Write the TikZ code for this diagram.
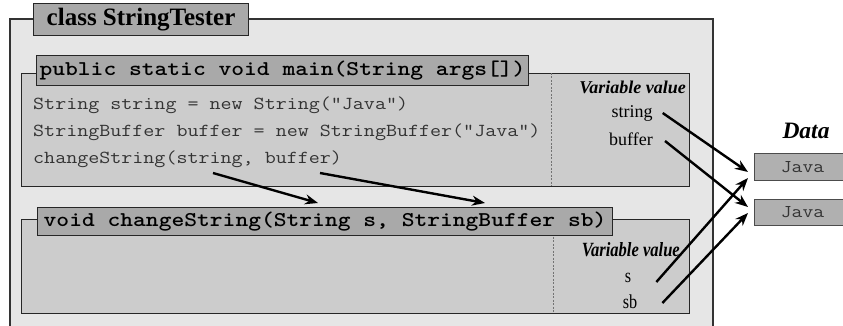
\documentclass[tikz,border=0pt]{standalone}
\usepackage{fontspec}
\setmainfont{Liberation Serif}
% typewriter faces widened to the usual 0.6em pitch
\newfontfamily\codefont[FakeStretch=1.17]{Latin Modern Mono}
\newfontfamily\headfont[FakeStretch=1.16]{lmmonolt10-bold.otf}
\usetikzlibrary{arrows.meta}

\definecolor{outerfill}{HTML}{E6E6E6}
\definecolor{boxfill}{HTML}{CCCCCC}
\definecolor{headfill}{HTML}{A9A9A9}
\definecolor{datafill}{HTML}{B0B0B0}
\definecolor{codegray}{HTML}{333333}

\tikzset{
  framebox/.style={draw=black!85, line width=1.2pt, fill=boxfill,
    anchor=north west, inner sep=0pt},
  headbox/.style={draw=black!85, line width=1.1pt, fill=headfill,
    inner sep=0pt, font=\headfont\fontsize{21}{24}\selectfont},
  codeline/.style={anchor=west, inner sep=0pt, text=codegray,
    font=\codefont\fontsize{18.3}{20}\selectfont},
  varhead/.style={anchor=east, inner sep=0pt,
    font=\bfseries\itshape\fontsize{18}{20}\selectfont},
  varname/.style={inner sep=0pt, font=\fontsize{18}{20}\selectfont},
  databox/.style={draw=black!70, line width=1pt, fill=datafill,
    anchor=north west, inner sep=0pt, text=codegray,
    font=\codefont\fontsize{18}{20}\selectfont},
  divider/.style={draw=black!55, line width=0.9pt, dash pattern=on 2pt off 1.5pt},
  ptr/.style={-{Stealth[length=13pt,width=10pt]}, line width=2.4pt},
}

\begin{document}
\begin{tikzpicture}[x=1pt,y=-1pt]
  \useasboundingbox (0,0) rectangle (843,326);

  % class frame, open at the bottom
  \fill[outerfill] (10,19) rectangle (713,340);
  \draw[black!80, line width=1.2pt] (10,340) -- (10,19) -- (713,19) -- (713,340);
  \node[headbox, anchor=north west, minimum width=215pt, minimum height=32pt,
        font=\bfseries\fontsize{25}{28}\selectfont] (cls) at (33,3) {class StringTester};

  % main method frame
  \node[framebox, minimum width=668pt, minimum height=113pt] (main) at (21,73) {};
  \draw[divider] (551,73) -- (551,186);
  \node[headbox, anchor=north west, minimum width=492pt, minimum height=30pt]
    (mainhead) at (36,55) {public static void main(String args[])};
  \node[codeline] (l1) at (33,105) {String string = new String("Java")};
  \node[codeline] (l2) at (33,132) {StringBuffer buffer = new StringBuffer("Java")};
  \node[codeline] (l3) at (33,159) {changeString(string, buffer)};
  \node[varhead] (vh1) at (686,87) {Variable value};
  \node[varname] (vstr) at (632,113) {string};
  \node[varname] (vbuf) at (631,139) {buffer};

  % changeString frame
  \node[framebox, minimum width=668pt, minimum height=94pt] (chg) at (21,219) {};
  \draw[divider] (553,219) -- (553,313);
  \node[headbox, anchor=north west, minimum width=575pt, minimum height=28pt]
    (chghead) at (37,207) {void changeString(String s, StringBuffer sb)};
  \node[varhead] (vh2) at (680,250) {\scalebox{0.92}[1.12]{Variable value}};
  \node[varname] (vs) at (628,278) {\scalebox{0.9}[1.1]{s}};
  \node[varname] (vsb) at (630,302) {\scalebox{0.9}[1.1]{sb}};

  % data area
  \node[inner sep=0pt, font=\bfseries\itshape\fontsize{23.5}{26}\selectfont] (data) at (806,131) {Data};
  \node[databox, minimum width=96pt, minimum height=27pt] (java1) at (754,153) {Java};
  \node[databox, minimum width=96pt, minimum height=26pt] (java2) at (754,199) {Java};

  % arrow ends
  \coordinate (argS) at (318,203);
  \coordinate (argB) at (485,203);
  \coordinate (j1a) at (748,172);
  \coordinate (j1b) at (748,178);
  \coordinate (j2a) at (748,207);
  \coordinate (j2b) at (748,213);
  \coordinate (callS) at (213,173);
  \coordinate (callB) at (320,173);

  % references
  \draw[ptr] (callS) -- (argS);
  \draw[ptr] (callB) -- (argB);
  \draw[ptr] ([xshift=10pt]vstr.east) -- (j1a);
  \draw[ptr] ([xshift=12pt,yshift=-2pt]vbuf.east) -- (j2a);
  \draw[ptr] ([xshift=25pt,yshift=-4pt]vs.east) -- (j1b);
  \draw[ptr] ([xshift=25pt,yshift=-1pt]vsb.east) -- (j2b);
\end{tikzpicture}
\end{document}
